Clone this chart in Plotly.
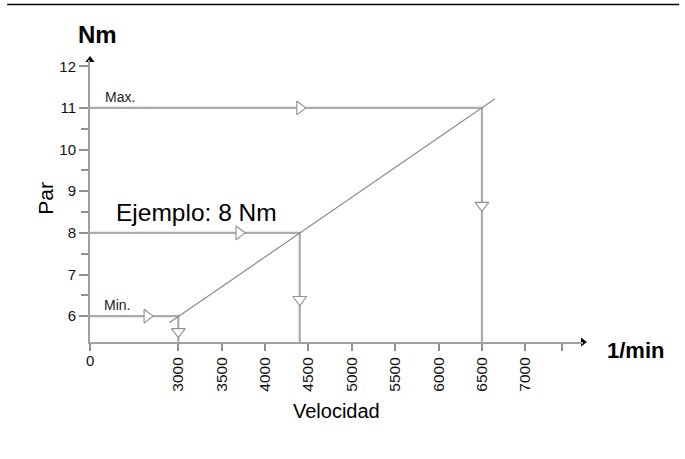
import plotly.graph_objects as go

# ---- data ----
speed_ticks = [3000, 3500, 4000, 4500, 5000, 5500, 6000, 6500, 7000]
speed_tick_labels = ["3000", "3500", "4000", "4500", "5000", "5500", "6000", "6500", "7000"]
torque_ticks = [6, 7, 8, 9, 10, 11, 12]
torque_minor = [6.5, 7.5, 8.5, 9.5, 10.5]

case_names = ["Min.", "Ejemplo: 8 Nm", "Max."]
case_speed = [3000, 4400, 6500]      # 1/min
case_torque = [6, 8, 11]             # Nm

# torque / speed characteristic line (end points)
char_speed = [2896, 6651]
char_torque = [5.84, 11.22]

# arrow-head positions along the guide lines
h_arrow_speed = [2640, 3700, 4400]
v_arrow_torque = [5.63, 6.40, 8.66]

# ---- layout constants (broken axis: "0" drawn just left of 3000) ----
X_ORIGIN = 1982
X_MAX = 7665
EXTRA_TICK = 7420
Y_MIN = 5.38
Y_MAX = 12.15

GUIDE = "#ababab"
AXIS = "#a0a0a0"
FONT = "Liberation Sans, Arial, sans-serif"

fig = go.Figure()

# guide lines (horizontal then vertical for each case)
for s, t in zip(case_speed, case_torque):
    fig.add_trace(go.Scatter(x=[X_ORIGIN, s, s], y=[t, t, Y_MIN], mode="lines",
                             line=dict(color=GUIDE, width=2.2), hoverinfo="skip"))

# characteristic line
fig.add_trace(go.Scatter(x=char_speed, y=char_torque, mode="lines",
                         line=dict(color="#8c8c8c", width=1.2), hoverinfo="skip"))

# direction arrows
fig.add_trace(go.Scatter(x=h_arrow_speed, y=case_torque, mode="markers",
                         marker=dict(symbol="triangle-right", size=12, color="white",
                                     line=dict(color="#909090", width=1.1)),
                         hoverinfo="skip"))
fig.add_trace(go.Scatter(x=case_speed, y=v_arrow_torque, mode="markers",
                         marker=dict(symbol="triangle-down", size=12, color="white",
                                     line=dict(color="#909090", width=1.1)),
                         hoverinfo="skip"))

# axis arrow heads
fig.add_trace(go.Scatter(x=[X_ORIGIN], y=[Y_MAX], mode="markers", cliponaxis=False,
                         marker=dict(symbol="triangle-up", size=8, color="black"),
                         hoverinfo="skip"))
fig.add_trace(go.Scatter(x=[X_MAX], y=[Y_MIN], mode="markers", cliponaxis=False,
                         marker=dict(symbol="triangle-right", size=8, color="black"),
                         hoverinfo="skip"))

fig.update_layout(
    width=685, height=459,
    margin=dict(l=90, r=102, t=60, b=117),
    paper_bgcolor="white", plot_bgcolor="white",
    showlegend=False,
    font=dict(family=FONT, color="black"),
    xaxis=dict(range=[X_ORIGIN, X_MAX], showgrid=False, zeroline=False,
               showline=True, linecolor=AXIS, linewidth=2,
               tickmode="array",
               tickvals=[X_ORIGIN] + speed_ticks + [EXTRA_TICK],
               ticktext=[""] + speed_tick_labels + [""],
               ticks="outside", ticklen=7, tickwidth=1.5, tickcolor="#909090",
               tickangle=-90, tickfont=dict(size=15.5, family=FONT, color="#111")),
    yaxis=dict(range=[Y_MIN, Y_MAX], showgrid=False, zeroline=False,
               showline=True, linecolor=AXIS, linewidth=2,
               tickmode="array", tickvals=torque_ticks,
               ticktext=[str(v) for v in torque_ticks],
               ticks="outside", ticklen=9, tickwidth=1.5, tickcolor="#909090",
               tickfont=dict(size=15, family=FONT, color="#111"),
               minor=dict(tickvals=torque_minor, ticks="outside", ticklen=7,
                          tickwidth=1.5, tickcolor="#909090")),
)

# case labels
fig.add_annotation(x=X_ORIGIN, y=case_torque[2], xref="x", yref="y", text=case_names[2],
                   showarrow=False, xanchor="left", yanchor="bottom", xshift=13, yshift=1,
                   font=dict(size=14, family=FONT, color="#222"))
fig.add_annotation(x=X_ORIGIN, y=case_torque[0], xref="x", yref="y", text=case_names[0],
                   showarrow=False, xanchor="left", yanchor="bottom", xshift=12, yshift=1,
                   font=dict(size=14, family=FONT, color="#222"))
fig.add_annotation(x=X_ORIGIN, y=case_torque[1], xref="x", yref="y", text=case_names[1],
                   showarrow=False, xanchor="left", yanchor="bottom", xshift=24, yshift=5,
                   font=dict(size=24.5, family=FONT, color="black"))

# axis labels
fig.add_annotation(x=X_ORIGIN, y=-0.067, xref="x", yref="paper", text="0", showarrow=False,
                   xanchor="center", yanchor="middle",
                   font=dict(size=15, family=FONT, color="#111"))
fig.add_annotation(x=0.5, y=-0.243, xref="paper", yref="paper", text="Velocidad",
                   showarrow=False, xanchor="center", yanchor="middle",
                   font=dict(size=20, family=FONT, color="black"))
fig.add_annotation(x=-0.09, y=0.51, xref="paper", yref="paper", text="Par", textangle=-90,
                   showarrow=False, xanchor="center", yanchor="middle",
                   font=dict(size=21, family=FONT, color="black"))
fig.add_annotation(x=0.015, y=1.092, xref="paper", yref="paper", text="<b>Nm</b>",
                   showarrow=False, xanchor="center", yanchor="middle",
                   font=dict(size=24, family=FONT, color="black"))
fig.add_annotation(x=1.045, y=-0.03, xref="paper", yref="paper", text="<b>1/min</b>",
                   showarrow=False, xanchor="left", yanchor="middle",
                   font=dict(size=22, family=FONT, color="black"))

# top rule
fig.add_shape(type="line", xref="paper", yref="paper", x0=-0.168, x1=1.195, y0=1.197, y1=1.197,
              line=dict(color="black", width=1.5))

fig.write_html("out.html", config={"displayModeBar": False},
               post_script="document.body.style.margin='0px';document.body.style.overflow='hidden';")
